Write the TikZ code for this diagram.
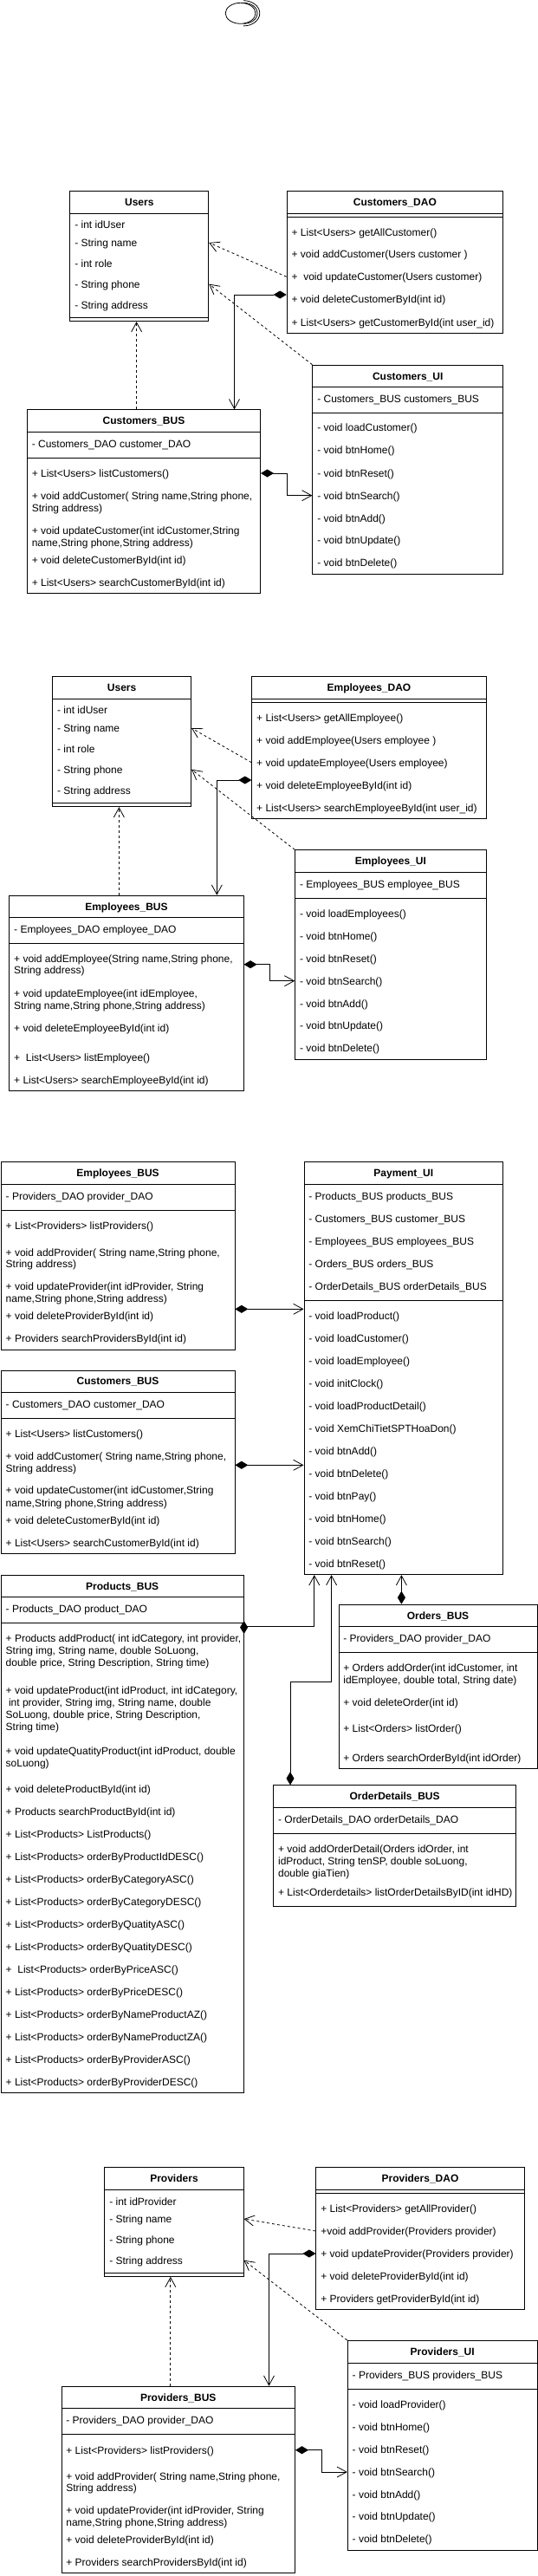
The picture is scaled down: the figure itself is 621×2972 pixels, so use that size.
\documentclass[tikz,border=0pt]{standalone}
\usepackage{fontspec}
\setmainfont{Liberation Sans}
\usetikzlibrary{arrows.meta}
\tikzset{
  classbox/.style={draw, anchor=north west, inner sep=0pt},
  classtitle/.style={font=\fontsize{12}{14}\selectfont\bfseries, inner sep=0pt, text height=8.6pt, text depth=0pt},
  classrow/.style={font=\fontsize{12}{14}\selectfont, anchor=west, inner sep=0pt, xshift=5.5pt, text height=8.6pt, text depth=0pt},
  dep/.style={dash pattern=on 3pt off 3pt, -{Straight Barb[length=11pt, width=12pt]}},
  comp/.style={{Diamond[length=15pt, width=9pt]}-{Straight Barb[length=11pt, width=12pt]}}
}
\newcommand\umlclass[6]{%
  \node[classbox, minimum width={#4-#2}, minimum height={#5-#3}] (#1) at (#2,#3) {};
  \node[classtitle, yshift=-13pt] (#1-t) at (#1.north) {#6};}
\newcommand\classline[2]{\draw (#1.west |- 0,#2) -- (#1.east |- 0,#2);}
\newcommand\classrows[2]{\foreach \yy/\txt [count=\n] in {#2} \node[classrow] (#1-\n) at (#1.west |- 0,\yy) {\txt};}
\begin{document}
\begin{tikzpicture}[x=1pt, y=-1pt, line width=0.8pt]
\useasboundingbox (0,0) rectangle (621,2972);

\draw (277.6,15.3) ellipse [x radius=17.4, y radius=12];
\draw (281.2,0.7) arc [start angle=-90, end angle=90, x radius=18.6, y radius=14.6];
\draw (281.2,3.3) arc [start angle=-90, end angle=90, x radius=16, y radius=12];

\umlclass{users}{80.4}{220.3}{240.4}{370.3}{Users}
\classline{users}{246.3} \classline{users}{366}
\classrows{users}{259.3/- int idUser, 280/- String name, 303.7/- int role, 327.7/- String phone, 351.7/- String address}

\umlclass{cdao}{330.7}{220.3}{580.2}{384}{Customers\_DAO}
\classline{cdao}{246.3} \classline{cdao}{250.3}
\classrows{cdao}{267.7/{+ List<Users> getAllCustomer()}, 293.3/{+ void addCustomer(Users customer )}, 319.3/{+ \ void updateCustomer(Users customer)}, 345.3/{+ void deleteCustomerById(int id)}, 372/{+ List<Users> getCustomerById(int user\_id)}}

\umlclass{cui}{360.4}{420.7}{580.2}{662.3}{Customers\_UI}
\classline{cui}{446.7} \classline{cui}{476.7}
\classrows{cui}{460/{- Customers\_BUS customers\_BUS}, 493.3/- void loadCustomer(), 519.3/- void btnHome(), 546/- void btnReset(), 571.7/- void btnSearch(), 597.7/- void btnAdd(), 623.3/- void btnUpdate(), 649.3/- void btnDelete()}

\umlclass{cbus}{30.9}{472.3}{300.2}{684.3}{Customers\_BUS}
\classline{cbus}{498.7} \classline{cbus}{528.3}
\classrows{cbus}{512/{- Customers\_DAO customer\_DAO}, 546/{+ List<Users> listCustomers()}, 572/{+ void addCustomer( String name,String phone,}, 585.7/{String address)}, 612.3/{+ void updateCustomer(int idCustomer,String}, 625.7/{name,String phone,String address)}, 646/{+ void deleteCustomerById(int id)}, 671.7/{+ List<Users> searchCustomerById(int id)}}

\draw[dep] (cdao.west |- cdao-3) -- (users.east |- users-2);
\draw[dep] (cui.north west) -- (users.east |- users-4);
\draw[comp] (cdao.west |- 0,340) -| (cbus.north -| 270.5,0);
\draw[comp] (cbus.east |- cbus-2) -- ++(30.5,0) |- (cui.west |- cui-5);
\draw[dep] (cbus.north -| 157.6,0) -- (users.south -| 157.6,0);

\umlclass{eusers}{60.2}{780.3}{220.2}{930.3}{Users}
\classline{eusers}{806.3} \classline{eusers}{926}
\classrows{eusers}{819.3/- int idUser, 840/- String name, 863.7/- int role, 887.7/- String phone, 911.7/- String address}

\umlclass{edao}{290.3}{780.3}{560.8}{944}{Employees\_DAO}
\classline{edao}{806.3} \classline{edao}{810.3}
\classrows{edao}{828.3/{+ List<Users> getAllEmployee()}, 854/{+ void addEmployee(Users employee )}, 879.7/{+ void updateEmployee(Users employee)}, 905.7/{+ void deleteEmployeeById(int id)}, 932/{+ List<Users> searchEmployeeById(int user\_id)}}

\umlclass{eui}{340.2}{980.3}{560.8}{1222.3}{Employees\_UI}
\classline{eui}{1006.3} \classline{eui}{1036.7}
\classrows{eui}{1020/{- Employees\_BUS employee\_BUS}, 1054/- void loadEmployees(), 1080/- void btnHome(), 1106/- void btnReset(), 1131.7/- void btnSearch(), 1157.7/- void btnAdd(), 1183.3/- void btnUpdate(), 1209.3/- void btnDelete()}

\umlclass{ebus}{10.3}{1032.7}{280.8}{1258.3}{Employees\_BUS}
\classline{ebus}{1058.3} \classline{ebus}{1088.3}
\classrows{ebus}{1072.3/{- Employees\_DAO employee\_DAO}, 1106/{+ void addEmployee(String name,String phone,}, 1119.3/{String address)}, 1146/{+ void updateEmployee(int idEmployee,}, 1160/{String name,String phone,String address)}, 1185.7/{+ void deleteEmployeeById(int id)}, 1220/{+ \ List<Users> listEmployee()}, 1245.7/{+ List<Users> searchEmployeeById(int id)}}

\draw[dep] (edao.west |- edao-3) -- (eusers.east |- eusers-2);
\draw[dep] (eui.north west) -- (eusers.east |- eusers-4);
\draw[comp] (edao.west |- 0,900) -| (ebus.north -| 250.3,0);
\draw[comp] (ebus.east |- 0,1112.7) -- ++(29.3,0) |- (eui.west |- eui-5);
\draw[dep] (ebus.north -| 137.4,0) -- (eusers.south -| 137.4,0);

\umlclass{s3emp}{0.8}{1340.3}{270.5}{1556.7}{Employees\_BUS}
\classline{s3emp}{1366.3} \classline{s3emp}{1396.3}
\classrows{s3emp}{1380.3/{- Providers\_DAO provider\_DAO}, 1414.3/{+ List<Providers> listProviders()}, 1445/{+ void addProvider( String name,String phone,}, 1457.7/{String address)}, 1484.3/{+ void updateProvider(int idProvider, String}, 1497.7/{name,String phone,String address)}, 1518/{+ void deleteProviderById(int id)}, 1543.7/{+ Providers searchProvidersById(int id)}}

\umlclass{payui}{350.5}{1340.3}{580.2}{1816.3}{Payment\_UI}
\classline{payui}{1366.3} \classline{payui}{1500.3}
\classrows{payui}{1380.3/{- Products\_BUS products\_BUS}, 1406/{- Customers\_BUS customer\_BUS}, 1432/{- Employees\_BUS employees\_BUS}, 1457.7/{- Orders\_BUS orders\_BUS}, 1484/{- OrderDetails\_BUS orderDetails\_BUS}, 1518/- void loadProduct(), 1544/- void loadCustomer(), 1569.7/- void loadEmployee(), 1595.7/- void initClock(), 1622/- void loadProductDetail(), 1648.3/- void XemChiTietSPTHoaDon(), 1674/- void btnAdd(), 1700/- void btnDelete(), 1725.7/- void btnPay(), 1751.7/- void btnHome(), 1777.7/- void btnSearch(), 1804/- void btnReset()}

\umlclass{s3cus}{0.8}{1580.5}{270.5}{1792}{Customers\_BUS}
\classline{s3cus}{1606.7} \classline{s3cus}{1636.7}
\classrows{s3cus}{1620/{- Customers\_DAO customer\_DAO}, 1654/{+ List<Users> listCustomers()}, 1680/{+ void addCustomer( String name,String phone,}, 1694/{String address)}, 1719.3/{+ void updateCustomer(int idCustomer,String}, 1734/{name,String phone,String address)}, 1753.7/{+ void deleteCustomerById(int id)}, 1780/{+ List<Users> searchCustomerById(int id)}}

\umlclass{prodbus}{0.8}{1816.7}{280.8}{2414.3}{Products\_BUS}
\classline{prodbus}{1842.3} \classline{prodbus}{1872.3}
\classrows{prodbus}{1855.7/{- Products\_DAO product\_DAO}, 1890/{+ Products addProduct( int idCategory, int provider,}, 1903.7/{String img, String name, double SoLuong,}, 1917.7/{double price, String Description, String time)}, 1950/{+ void updateProduct(int idProduct, int idCategory,}, 1963.7/{\ int provider, String img, String name, double}, 1977.7/{SoLuong, double price, String Description,}, 1991.7/{String time)}, 2020/{+ void updateQuatityProduct(int idProduct, double}, 2033.7/{soLuong)}, 2064/{+ void deleteProductById(int id)}, 2089.7/{+ Products searchProductById(int id)}, 2116/{+ List<Products> ListProducts()}, 2142/{+ List<Products> orderByProductIdDESC()}, 2168/{+ List<Products> orderByCategoryASC()}, 2194/{+ List<Products> orderByCategoryDESC()}, 2219.7/{+ List<Products> orderByQuatityASC()}, 2245.7/{+ List<Products> orderByQuatityDESC()}, 2272/{+ \ List<Products> orderByPriceASC()}, 2297.7/{+ List<Products> orderByPriceDESC()}, 2323.7/{+ List<Products> orderByNameProductAZ()}, 2349.7/{+ List<Products> orderByNameProductZA()}, 2375.7/{+ List<Products> orderByProviderASC()}, 2401.7/{+ List<Products> orderByProviderDESC()}}

\umlclass{ordbus}{390.5}{1850.7}{619.8}{2040.3}{Orders\_BUS}
\classline{ordbus}{1876.7} \classline{ordbus}{1906.3}
\classrows{ordbus}{1889.7/{- Providers\_DAO provider\_DAO}, 1923.7/{+ Orders addOrder(int idCustomer, int}, 1937.7/{idEmployee, double total, String date)}, 1963.7/{+ void deleteOrder(int id)}, 1993.7/{+ List<Orders> listOrder()}, 2027.7/{+ Orders searchOrderById(int idOrder)}}

\umlclass{odbus}{315.2}{2059.3}{595.2}{2199.3}{OrderDetails\_BUS}
\classline{odbus}{2085.3} \classline{odbus}{2115.3}
\classrows{odbus}{2098.7/{- OrderDetails\_DAO orderDetails\_DAO}, 2133/{+ void addOrderDetail(Orders idOrder, int}, 2147.3/{idProduct, String tenSP, double soLuong,}, 2161.3/{double giaTien)}, 2182.7/{+ List<Orderdetails> listOrderDetailsByID(int idHD)}}

\draw[comp] (s3emp.east |- 0,1510.3) -- (payui.west |- 0,1510.3);
\draw[comp] (s3cus.east |- 0,1690.3) -- (payui.west |- 0,1690.3);
\draw[comp] (prodbus.east |- 0,1870) -- ++(0,6) -| (payui.south -| 362.8,0);
\draw[comp] (odbus.north -| 335,0) -- ++(0,-119.3) -| (payui.south -| 382.6,0);
\draw[comp] (ordbus.north -| 463.4,0) -- (payui.south -| 463.4,0);

\umlclass{prov}{120.4}{2500.3}{280.8}{2626}{Providers}
\classline{prov}{2526.3} \classline{prov}{2622}
\classrows{prov}{2539.7/- int idProvider, 2560/- String name, 2584/- String phone, 2607.7/- String address}

\umlclass{pdao}{364.4}{2500.3}{604.8}{2664}{Providers\_DAO}
\classline{pdao}{2526.3} \classline{pdao}{2530.3}
\classrows{pdao}{2548.3/{+ List<Providers> getAllProvider()}, 2574/{+void addProvider(Providers provider)}, 2600/{+ void updateProvider(Providers provider)}, 2625.7/{+ void deleteProviderById(int id)}, 2652/{+ Providers getProviderById(int id)}}

\umlclass{pui}{400.8}{2700}{619.8}{2942.3}{Providers\_UI}
\classline{pui}{2726} \classline{pui}{2756.7}
\classrows{pui}{2740/{- Providers\_BUS providers\_BUS}, 2774/- void loadProvider(), 2800/- void btnHome(), 2826/- void btnReset(), 2852/- void btnSearch(), 2877.7/- void btnAdd(), 2903.3/- void btnUpdate(), 2929.3/- void btnDelete()}

\umlclass{pbus}{70.5}{2752.7}{340.2}{2968.3}{Providers\_BUS}
\classline{pbus}{2778.3} \classline{pbus}{2808.3}
\classrows{pbus}{2792.3/{- Providers\_DAO provider\_DAO}, 2826.7/{+ List<Providers> listProviders()}, 2856.7/{+ void addProvider( String name,String phone,}, 2870/{String address)}, 2896/{+ void updateProvider(int idProvider, String}, 2910/{name,String phone,String address)}, 2930/{+ void deleteProviderById(int id)}, 2956/{+ Providers searchProvidersById(int id)}}

\draw[dep] (pdao.west |- pdao-2) -- (prov.east |- prov-2);
\draw[dep] (pui.north west) -- (prov.east |- prov-4);
\draw[comp] (pdao.west |- pdao-3) -| (pbus.north -| 310.5,0);
\draw[comp] (pbus.east |- pbus-2) -- ++(30.1,0) |- (pui.west |- pui-5);
\draw[dep] (pbus.north -| 196.8,0) -- (prov.south -| 196.8,0);
\end{tikzpicture}
\end{document}
